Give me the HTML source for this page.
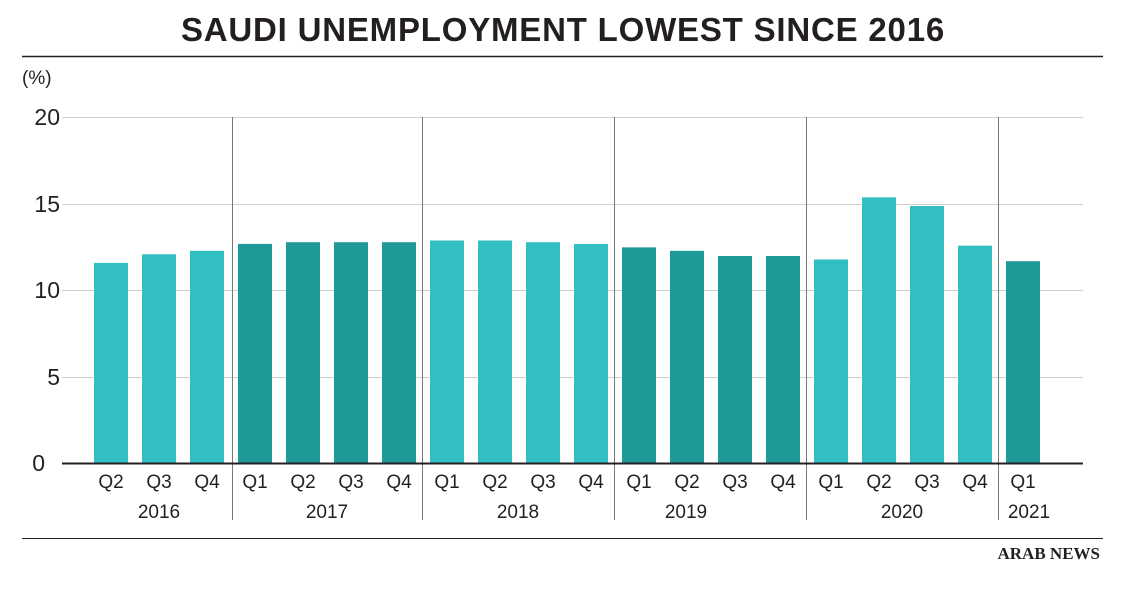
<!DOCTYPE html>
<html><head><meta charset="utf-8"><style>
body{margin:0;background:#fff;}
svg{display:block;font-family:"Liberation Sans",sans-serif;}
</style></head><body>
<svg width="1126" height="592" viewBox="0 0 1126 592">
<text x="563" y="41" text-anchor="middle" font-size="33" font-weight="bold" fill="#231f20" letter-spacing="0.8">SAUDI UNEMPLOYMENT LOWEST SINCE 2016</text>
<line x1="22" y1="56.5" x2="1103" y2="56.5" stroke="#231f20" stroke-width="1.5"/>
<text x="22" y="84" font-size="19" fill="#231f20">(%)</text>
<g stroke="#cfcfcf" stroke-width="1">
<line x1="62" y1="117.5" x2="1083" y2="117.5"/>
<line x1="62" y1="204.5" x2="1083" y2="204.5"/>
<line x1="62" y1="290.5" x2="1083" y2="290.5"/>
<line x1="62" y1="377.5" x2="1083" y2="377.5"/>
</g>
<g font-size="23" fill="#231f20" text-anchor="end">
<text x="60" y="125">20</text><text x="60" y="212">15</text><text x="60" y="298">10</text><text x="60" y="385">5</text><text x="45" y="471">0</text>
</g>
<g id="bars"></g>
<g stroke="#777" stroke-width="1">
<line x1="232.5" y1="117" x2="232.5" y2="520"/>
<line x1="422.5" y1="117" x2="422.5" y2="520"/>
<line x1="614.5" y1="117" x2="614.5" y2="520"/>
<line x1="806.5" y1="117" x2="806.5" y2="520"/>
<line x1="998.5" y1="117" x2="998.5" y2="520"/>
</g>
<line x1="62" y1="463.5" x2="1083" y2="463.5" stroke="#231f20" stroke-width="2"/>
<g font-size="19" fill="#231f20" text-anchor="middle" id="labels"></g>
<g font-size="19" fill="#231f20" text-anchor="middle">
<text x="159" y="518">2016</text><text x="327" y="518">2017</text><text x="518" y="518">2018</text><text x="686" y="518">2019</text><text x="902" y="518">2020</text><text x="1029" y="518">2021</text>
</g>
<line x1="22" y1="538.5" x2="1103" y2="538.5" stroke="#231f20" stroke-width="1"/>
<text x="1100" y="559" text-anchor="end" font-family="Liberation Serif,serif" font-size="17" font-weight="bold" fill="#231f20">ARAB NEWS</text>
</svg>
<script>
var v=[11.6,12.1,12.3,12.7,12.8,12.8,12.8,12.9,12.9,12.8,12.7,12.5,12.3,12.0,12.0,11.8,15.4,14.9,12.6,11.7];
var q=["Q2","Q3","Q4","Q1","Q2","Q3","Q4","Q1","Q2","Q3","Q4","Q1","Q2","Q3","Q4","Q1","Q2","Q3","Q4","Q1"];
var dark=[0,0,0,1,1,1,1,0,0,0,0,1,1,1,1,0,0,0,0,1];
var ns="http://www.w3.org/2000/svg",b=document.getElementById("bars"),l=document.getElementById("labels");
for(var i=0;i<20;i++){var cx=111+i*48,h=v[i]*17.25;
var r=document.createElementNS(ns,"rect");r.setAttribute("x",cx-17);r.setAttribute("width",34);r.setAttribute("y",463-h);r.setAttribute("height",h);r.setAttribute("fill",dark[i]?"#1f9898":"#31bfc2");b.appendChild(r);
var t=document.createElementNS(ns,"text");t.setAttribute("x",cx);t.setAttribute("y",488);t.textContent=q[i];l.appendChild(t);}
</script>
</body></html>
